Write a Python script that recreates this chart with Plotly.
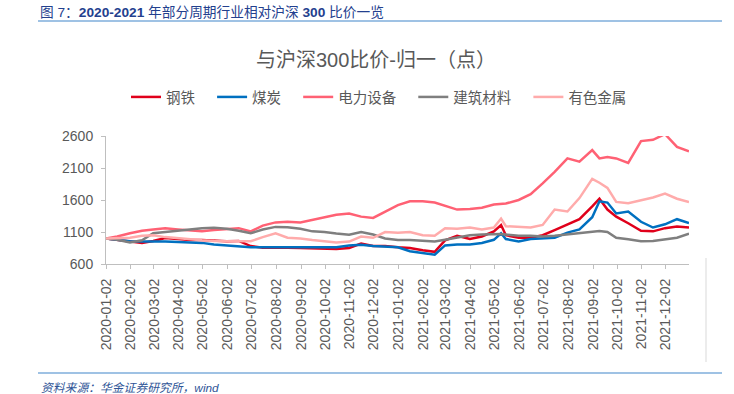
import plotly.graph_objects as go

dates = [
    "2020-01-02", "2020-01-16", "2020-02-01", "2020-02-16", "2020-03-01", "2020-03-16",
    "2020-04-01", "2020-04-16", "2020-05-01", "2020-05-16", "2020-06-01", "2020-06-16",
    "2020-07-01", "2020-07-16", "2020-08-01", "2020-08-16", "2020-09-01", "2020-09-16",
    "2020-10-01", "2020-10-16", "2020-11-01", "2020-11-16", "2020-12-01", "2020-12-16",
    "2021-01-01", "2021-01-16", "2021-02-01", "2021-02-16", "2021-03-01", "2021-03-16",
    "2021-04-01", "2021-04-16", "2021-05-01", "2021-05-10", "2021-05-16", "2021-06-01",
    "2021-06-16", "2021-07-01", "2021-07-16", "2021-08-01", "2021-08-16", "2021-09-01",
    "2021-09-10", "2021-09-20", "2021-10-01", "2021-10-16", "2021-11-01", "2021-11-16",
    "2021-12-01", "2021-12-16", "2021-12-31",
]

steel = [1000, 980, 955, 930, 960, 1005, 990, 975, 975, 960, 955, 960,
         880, 855, 860, 855, 850, 845, 840, 835, 850, 920, 880, 880,
         860, 850, 815, 790, 970, 1040, 990, 1030, 1110, 1210, 1050, 1010,
         1010, 1050, 1130, 1220, 1300, 1500, 1620, 1450, 1340, 1237, 1120, 1110,
         1160, 1185, 1170]

coal = [1000, 975, 955, 950, 955, 950, 945, 940, 930, 905, 890, 875,
        860, 860, 860, 855, 855, 850, 850, 860, 890, 900, 880, 870,
        860, 800, 770, 745, 890, 905, 905, 927, 978, 1080, 990, 953,
        990, 1000, 1010, 1090, 1140, 1330, 1580, 1560, 1390, 1420, 1260, 1170,
        1220, 1300, 1240]

power = [1000, 1030, 1080, 1120, 1140, 1160, 1140, 1130, 1110, 1130, 1150, 1160,
         1110, 1200, 1250, 1260, 1250, 1290, 1330, 1370, 1390, 1340, 1320, 1420,
         1520, 1580, 1580, 1560, 1510, 1450, 1460, 1480, 1530, 1540, 1545, 1600,
         1690, 1860, 2040, 2250, 2200, 2380, 2250, 2270, 2250, 2180, 2520, 2540,
         2630, 2430, 2360]

building = [1000, 980, 935, 970, 1080, 1100, 1130, 1150, 1160, 1165, 1150, 1120,
            1080, 1140, 1180, 1175, 1150, 1110, 1100, 1075, 1056, 1100, 1060, 1000,
            975, 975, 960, 950, 980, 1010, 1050, 1060, 1070, 1070, 1060, 1040,
            1040, 1030, 1040, 1060, 1080, 1110, 1115, 1100, 1010, 985, 955, 960,
            985, 1010, 1075]

nonferrous = [1000, 1000, 1010, 1040, 1050, 1020, 1000, 980, 970, 960, 955, 950,
              955, 1020, 1080, 1010, 1000, 975, 950, 935, 950, 1030, 1010, 1100,
              1090, 1100, 1050, 1040, 1160, 1150, 1170, 1140, 1170, 1310, 1190, 1180,
              1170, 1210, 1450, 1420, 1630, 1930, 1870, 1790, 1570, 1550, 1600, 1640,
              1700, 1620, 1570]

series_names = ["钢铁", "煤炭", "电力设备", "建筑材料", "有色金属"]
series_values = [steel, coal, power, building, nonferrous]
series_colors = ["#E0001B", "#0070C0", "#FF6174", "#7F7F7F", "#FFABAB"]

tick_vals = ["2020-%02d-02" % m for m in range(1, 13)] + ["2021-%02d-02" % m for m in range(1, 13)]
tick_text = tick_vals[:]
y_ticks = [600, 1100, 1600, 2100, 2600]

W, H = 734, 394
L, R, T, B = 106, 45, 136, 130
PW, PH = W - L - R, H - T - B


def px(x):
    return (x - L) / PW


def py(y):
    return (H - B - y) / PH


FONT = "Liberation Sans, Arial, Noto Sans CJK SC, sans-serif"
NBSP = "\u00a0"

fig = go.Figure()
for i, (name, vals, col) in enumerate(zip(series_names, series_values, series_colors)):
    label = name + (NBSP * 3 if i < len(series_names) - 1 else "")
    fig.add_trace(go.Scatter(x=dates, y=vals, mode="lines", name=label,
                             line=dict(color=col, width=2.5)))

fig.update_layout(
    width=W, height=H,
    margin=dict(l=L, r=R, t=T, b=B, autoexpand=False),
    paper_bgcolor="white", plot_bgcolor="white",
    font=dict(family=FONT, color="#595959"),
    showlegend=True,
    legend=dict(orientation="h", x=px(126), y=py(97), xanchor="left", yanchor="middle",
                font=dict(size=14.5, color="#595959"), itemwidth=30, tracegroupgap=0,
                bgcolor="rgba(0,0,0,0)"),
    xaxis=dict(type="date", range=["2020-01-02", "2021-12-31"],
               tickmode="array", tickvals=tick_vals, ticktext=tick_text,
               tickangle=-90, tickfont=dict(size=14, color="#595959"),
               ticklabelstandoff=4,
               showgrid=False, zeroline=False, showline=True, linecolor="#BFBFBF", linewidth=1,
               ticks="outside", ticklen=4, tickcolor="#BFBFBF"),
    yaxis=dict(range=[600, 2600], tickmode="array", tickvals=y_ticks,
               tickfont=dict(size=14, color="#595959"),
               ticklabelstandoff=5,
               showgrid=False, zeroline=False, showline=True, linecolor="#BFBFBF", linewidth=1,
               ticks="outside", ticklen=4, tickcolor="#BFBFBF"),
    shapes=[
        dict(type="line", xref="paper", yref="paper", x0=px(38), x1=px(722), y0=py(21), y1=py(21),
             line=dict(color="#7FAEDB", width=1.5)),
        dict(type="line", xref="paper", yref="paper", x0=px(38), x1=px(722), y0=py(373), y1=py(373),
             line=dict(color="#7FAEDB", width=1.5)),
        dict(type="line", xref="paper", yref="paper", x0=px(706), x1=px(706), y0=py(258), y1=py(362),
             line=dict(color="#D9D9D9", width=1)),
    ],
    annotations=[
        dict(text="图 7：<b>2020-2021</b> 年部分周期行业相对沪深 <b>300</b> 比价一览",
             x=px(38), y=py(12), xref="paper", yref="paper", xanchor="left", yanchor="middle",
             showarrow=False, font=dict(size=13.7, color="#23408E", family=FONT)),
        dict(text="与沪深300比价-归一（点）",
             x=px(376), y=py(60), xref="paper", yref="paper", xanchor="center", yanchor="middle",
             showarrow=False, font=dict(size=20, color="#595959", family=FONT)),
        dict(text="<i>资料来源：华金证券研究所，wind</i>",
             x=px(39), y=py(388), xref="paper", yref="paper", xanchor="left", yanchor="middle",
             showarrow=False, font=dict(size=11.8, color="#2F5597", family=FONT)),
    ],
)

fig.write_html("out.html", config={"displayModeBar": False},
               post_script="document.body.style.margin='0';document.body.style.padding='0';")
